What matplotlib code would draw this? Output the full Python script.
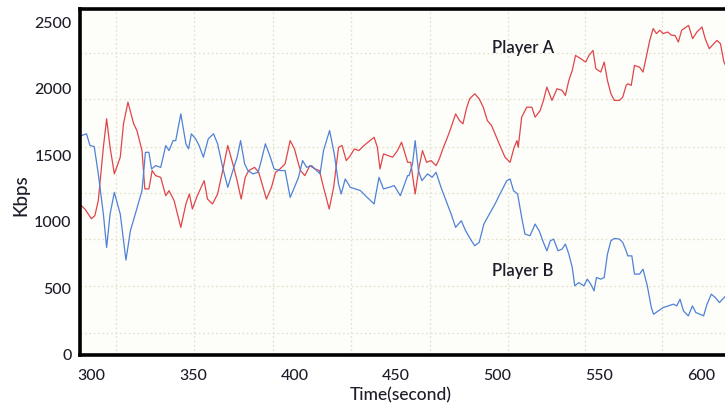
import matplotlib
matplotlib.use("Agg")
import matplotlib.pyplot as plt
from matplotlib.ticker import FixedLocator

# ---- data ----
time_a = [295.2, 296.9, 300.1, 301.8, 303.5, 306.0, 307.6, 309.3, 311.4, 314.3, 315.9, 318.1, 320.9, 322.5,
          325.0, 326.4, 328.4, 330.0, 331.7, 334.2, 336.7, 338.3, 340.8, 344.1, 346.6, 348.3, 349.8, 352.2,
          355.6, 357.2, 359.7, 362.2, 364.7, 367.2, 369.7, 371.8, 373.8, 375.8, 377.5, 380.4, 382.4, 384.1,
          386.2, 388.7, 390.7, 392.9, 395.4, 397.9, 400.0, 402.0, 403.0, 405.1, 407.6, 410.1, 412.3, 414.3,
          417.1, 419.3, 421.7, 423.4, 425.5, 427.5, 429.5, 431.7, 434.2, 436.2, 439.2, 440.8, 442.1, 443.8,
          446.1, 448.3, 450.7, 452.7, 455.7, 457.2, 459.4, 461.3, 463.0, 465.0, 467.2, 469.7, 471.3, 473.3,
          475.0, 477.1, 479.3, 481.2, 482.9, 484.6, 486.2, 488.7, 490.9, 492.9, 494.9, 497.0, 498.7, 501.1,
          503.6, 506.1, 508.1, 509.5, 510.1, 511.8, 514.3, 516.8, 518.4, 520.9, 522.5, 524.2, 526.7, 529.2,
          531.7, 533.3, 535.0, 536.7, 538.3, 540.8, 543.3, 544.9, 546.9, 548.3, 550.7, 552.4, 554.0, 555.7,
          557.4, 559.9, 561.5, 563.2, 564.0, 565.7, 567.3, 569.8, 571.5, 573.1, 574.8, 576.5, 578.1, 579.7,
          581.4, 583.6, 585.6, 587.2, 588.9, 590.5, 593.9, 595.9, 598.0, 600.5, 602.1, 604.1, 606.3, 607.9,
          609.6, 611.3, 613.4, 615.4]
kbps_a = [1122, 1097, 1024, 1047, 1160, 1561, 1775, 1561, 1361, 1486, 1737, 1900, 1737, 1687,
          1536, 1248, 1248, 1386, 1348, 1335, 1197, 1235, 1160, 959, 1135, 1210, 1097, 1197,
          1310, 1172, 1135, 1210, 1386, 1574, 1436, 1310, 1172, 1335, 1386, 1410, 1373, 1285,
          1172, 1260, 1373, 1398, 1436, 1611, 1549, 1436, 1386, 1348, 1423, 1398, 1386, 1260,
          1097, 1260, 1561, 1574, 1461, 1498, 1549, 1536, 1574, 1599, 1636, 1561, 1398, 1511,
          1498, 1486, 1536, 1599, 1448, 1448, 1210, 1410, 1536, 1448, 1461, 1423, 1474, 1561,
          1624, 1712, 1812, 1762, 1737, 1850, 1925, 1963, 1925, 1862, 1762, 1724, 1662, 1574,
          1486, 1448, 1561, 1611, 1561, 1787, 1862, 1862, 1787, 1837, 1913, 2013, 1913, 2001,
          1988, 1950, 2063, 2139, 2251, 2227, 2201, 2251, 2289, 2151, 2126, 2201, 2063, 1963,
          1913, 1913, 1937, 2026, 2038, 2026, 2176, 2163, 2126, 2239, 2364, 2453, 2415, 2440,
          2415, 2427, 2402, 2402, 2352, 2440, 2477, 2377, 2427, 2465, 2377, 2302, 2339, 2364,
          2339, 2201, 2139, 2163]

time_b = [295.2, 297.7, 299.4, 301.5, 303.5, 306.0, 307.6, 309.3, 311.4, 314.3, 317.1, 319.3, 321.7, 325.0,
          326.7, 328.4, 329.7, 331.7, 334.2, 336.7, 338.3, 340.3, 341.6, 344.1, 346.6, 347.9, 349.3, 351.4,
          353.1, 355.2, 357.6, 360.2, 362.2, 364.7, 367.2, 369.7, 371.8, 373.5, 375.5, 377.1, 379.6, 382.1,
          383.7, 385.7, 387.9, 390.0, 392.9, 395.4, 397.9, 400.0, 402.0, 404.0, 406.0, 408.5, 410.9, 412.6,
          414.3, 417.3, 419.6, 421.7, 423.0, 425.0, 427.5, 430.0, 432.5, 435.8, 439.2, 441.6, 443.8, 446.6,
          449.1, 452.1, 455.7, 456.4, 458.1, 459.4, 461.0, 462.7, 465.5, 467.7, 469.7, 472.1, 474.6, 477.1,
          479.3, 482.1, 484.2, 487.1, 488.7, 490.9, 493.2, 495.9, 498.7, 501.1, 502.8, 504.5, 506.1, 507.8,
          509.8, 511.8, 513.4, 515.9, 518.4, 520.4, 522.5, 524.2, 525.9, 527.5, 529.7, 531.7, 533.3, 535.0,
          536.7, 537.9, 539.9, 542.4, 544.1, 545.8, 547.4, 548.6, 550.7, 552.4, 554.0, 555.7, 557.4, 559.9,
          561.5, 563.2, 564.0, 566.0, 567.3, 569.8, 571.5, 573.6, 575.6, 576.7, 579.0, 581.4, 583.9, 586.4,
          588.1, 589.7, 591.4, 593.8, 595.8, 597.5, 599.6, 601.3, 603.0, 605.1, 607.1, 609.1, 611.3, 613.4,
          615.4]
kbps_b = [1649, 1662, 1574, 1566, 1361, 1059, 808, 1059, 1222, 1059, 713, 934, 1059, 1235,
          1523, 1523, 1398, 1423, 1410, 1574, 1536, 1611, 1611, 1812, 1587, 1549, 1662, 1624,
          1574, 1486, 1624, 1662, 1587, 1410, 1260, 1386, 1486, 1611, 1436, 1386, 1361, 1373,
          1461, 1587, 1498, 1398, 1386, 1386, 1184, 1260, 1335, 1461, 1410, 1423, 1386, 1361,
          1536, 1687, 1511, 1285, 1210, 1323, 1260, 1248, 1235, 1184, 1135, 1335, 1248, 1260,
          1273, 1197, 1348, 1348, 1436, 1611, 1386, 1310, 1361, 1335, 1373, 1260, 1160, 1059,
          959, 1009, 934, 858, 821, 846, 984, 1059, 1135, 1210, 1260, 1310, 1323, 1235,
          1210, 1034, 909, 896, 984, 934, 846, 783, 858, 871, 783, 796, 834, 758,
          657, 520, 544, 520, 570, 532, 482, 582, 570, 582, 758, 858, 876, 871,
          846, 783, 745, 745, 608, 608, 645, 520, 356, 306, 331, 356, 369, 382,
          369, 419, 331, 294, 369, 319, 306, 294, 382, 457, 431, 394, 431, 462,
          431]

x_ticks = [300, 350, 400, 450, 500, 550, 600]
y_ticks = [0, 500, 1000, 1500, 2000, 2500]
x_grid = [312.4, 350.7, 389.6, 427.9, 466.7, 505.0, 542.8, 581.0]
y_grid = [166, 520, 873, 1220, 1566, 1920, 2267]
label_a = "Player A"
label_b = "Player B"

# ---- figure ----
plt.rcParams['font.family'] = ['Lato', 'DejaVu Sans']
fig = plt.figure(figsize=(7.25, 4.08), dpi=100)
ax = fig.add_axes([80 / 725, 53 / 408, 1 - 80 / 725 + 0.01, 346 / 408])
ax.set_facecolor('#fdfdfa')

ax.plot(time_a, kbps_a, color='#e0454a', lw=0.9)
ax.plot(time_b, kbps_b, color='#4f82d6', lw=0.9)

ax.set_xlim(294.5, 615.4)
ax.set_ylim(0, 2600)
ax.xaxis.set_major_locator(FixedLocator(x_ticks))
ax.yaxis.set_major_locator(FixedLocator(y_ticks))
ax.xaxis.set_minor_locator(FixedLocator(x_grid))
ax.yaxis.set_minor_locator(FixedLocator(y_grid))
ax.grid(False, which='major')
ax.grid(True, which='minor', color='#e4e2cc', linestyle=(0, (1.5, 2)), linewidth=0.9)
ax.tick_params(which='both', length=0, labelsize=11.5, colors='#1e1e2a', pad=6)
ax.tick_params(axis='x', pad=10)
for lab in ax.get_xticklabels() + ax.get_yticklabels():
    lab.set_fontweight('medium')

for s in ['left', 'bottom', 'top']:
    ax.spines[s].set_linewidth(2.6)
    ax.spines[s].set_color('black')
ax.spines['right'].set_visible(False)

ax.set_ylabel('Kbps', fontsize=13.5, color='#1e1e2a', fontweight='medium')
ax.yaxis.set_label_coords((22 - 80) / 645, (355 - 195) / 346)
ax.set_xlabel('Time(second)', fontsize=12.5, color='#1e1e2a', fontweight='medium')
ax.xaxis.set_label_coords((401 - 80) / 652, -(395 - 355) / 346)
ax.xaxis.label.set_va('center')
ax.yaxis.label.set_va('center')

ax.text(512.5, 2304, label_a, fontsize=12, color='#1e1e2a', ha='center', va='center',
        fontweight='semibold')
ax.text(512.5, 632, label_b, fontsize=12, color='#1e1e2a', ha='center', va='center',
        fontweight='semibold')

fig.savefig('out.png', dpi=100)
